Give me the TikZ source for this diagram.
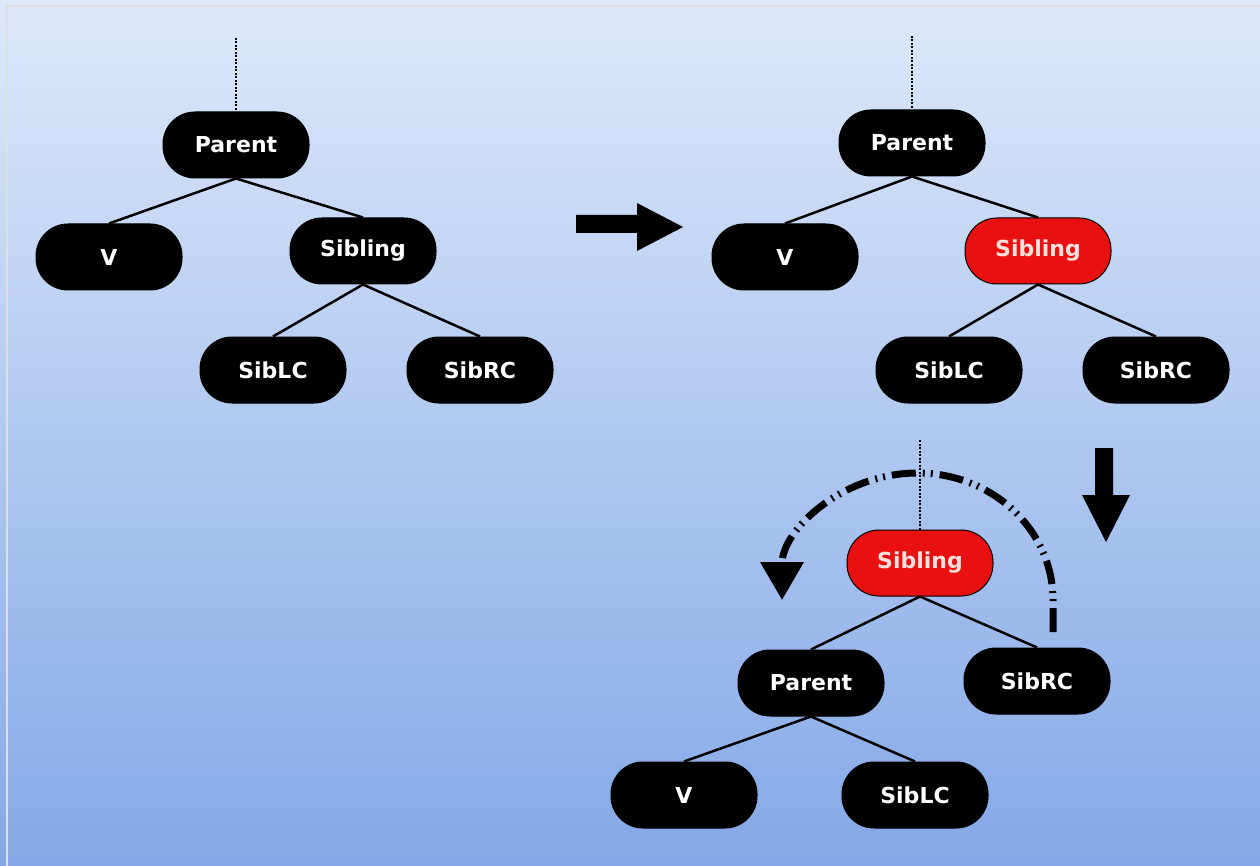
\documentclass[tikz,border=0pt]{standalone}
\usepackage{fontspec}
\setmainfont{DejaVu Sans}
\usetikzlibrary{arrows.meta}
\definecolor{bgtop}{RGB}{222,233,250}
\definecolor{bgbot}{RGB}{132,168,231}
\definecolor{sibred}{RGB}{232,16,16}
\definecolor{redtext}{RGB}{255,224,220}

\begin{document}
\begin{tikzpicture}[x=1pt,y=-1pt,
    tnode/.style={draw=black,fill=black,text=white,rounded corners=32pt,minimum width=146pt,minimum height=66pt,inner sep=0pt,line width=1pt,font=\fontsize{22}{26}\selectfont\bfseries},
    rnode/.style={tnode,fill=sibred,text=redtext},
    edge/.style={line width=2.5pt},
    stub/.style={line width=2.4pt,dash pattern=on 2pt off 1.5pt},
    rot/.style={line width=7pt,dash pattern=on 24pt off 7pt on 2pt off 6pt on 2pt off 7pt,-{Triangle[length=38pt,width=42pt]}}]
    \fill[top color=bgtop,bottom color=bgbot] (0,0) rectangle (1260,866);
    \useasboundingbox (0,0) rectangle (1260,866);
    \draw[white!75!gray,line width=1.5pt] (7,866) -- (7,6) -- (1260,6);

    \node[tnode] (lpar) at (236,145) {Parent};
    \node[tnode] (lv) at (109,257) {V};
    \node[tnode] (lsib) at (363,251) {Sibling};
    \node[tnode] (lslc) at (273,370) {SibLC};
    \node[tnode] (lsrc) at (480,370) {SibRC};
    \coordinate (ltop) at (236,38);
    \draw[stub] (ltop) -- (lpar);
    \draw[edge] (lpar.south) -- (lv.north);
    \draw[edge] (lpar.south) -- (lsib.north);
    \draw[edge] (lsib.south) -- (lslc.north);
    \draw[edge] (lsib.south) -- (lsrc.north);

    \fill (576,215) -- (637,215) -- (637,203) -- (683,227) -- (637,251) -- (637,233) -- (576,233) -- cycle;

    \node[tnode] (rpar) at (912,143) {Parent};
    \node[tnode] (rv) at (785,257) {V};
    \node[rnode] (rsib) at (1038,251) {Sibling};
    \node[tnode] (rslc) at (949,370) {SibLC};
    \node[tnode] (rsrc) at (1156,370) {SibRC};
    \coordinate (rtop) at (912,36);
    \draw[stub] (rtop) -- (rpar);
    \draw[edge] (rpar.south) -- (rv.north);
    \draw[edge] (rpar.south) -- (rsib.north);
    \draw[edge] (rsib.south) -- (rslc.north);
    \draw[edge] (rsib.south) -- (rsrc.north);

    \fill (1095,448) -- (1113,448) -- (1113,495) -- (1130,495) -- (1106,542) -- (1082,495) -- (1095,495) -- cycle;

    \node[rnode] (bsib) at (920,563) {Sibling};
    \node[tnode] (bpar) at (811,683) {Parent};
    \node[tnode] (bsrc) at (1037,681) {SibRC};
    \node[tnode] (bv) at (684,795) {V};
    \node[tnode] (bslc) at (915,795) {SibLC};
    \coordinate (btop) at (920,440);
    \draw[stub] (btop) -- (bsib);
    \draw[edge] (bsib.south) -- (bpar.north);
    \draw[edge] (bsib.south) -- (bsrc.north);
    \draw[edge] (bpar.south) -- (bv.north);
    \draw[edge] (bpar.south) -- (bslc.north);

    \coordinate (rstart) at (1053,632);
    \draw[rot] (rstart) -- (1053,600) arc[start angle=0,end angle=-180,x radius=135.5,y radius=127];
\end{tikzpicture}
\end{document}
